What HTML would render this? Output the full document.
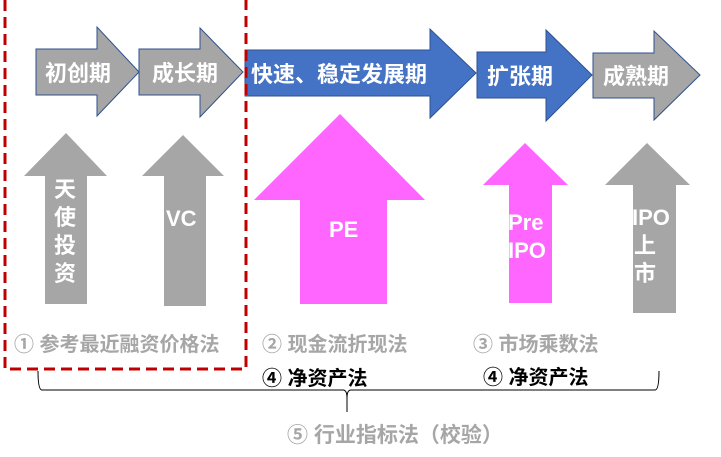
<!DOCTYPE html>
<html><head><meta charset="utf-8"><style>
html,body{margin:0;padding:0;background:#fff;}
svg{display:block;}
text{font-family:"Liberation Sans","Noto Sans CJK SC",sans-serif;font-weight:bold;}
</style></head><body>
<svg width="721" height="457" viewBox="0 0 721 457" xmlns="http://www.w3.org/2000/svg">
<g stroke="#2f528f" stroke-width="1">
<polygon points="36,49 97,49 97,27 139,72 97,116 97,95 36,95" fill="#a6a6a6"/>
<polygon points="139,49 200,49 200,28 243,72 200,117 200,95 139,95" fill="#a6a6a6"/>
<polygon points="245,50 430,50 430,29 476,73 430,118 430,96 245,96" fill="#4472c4"/>
<polygon points="477,52 546,52 546,30 592,75 546,121 546,98 477,98" fill="#4472c4"/>
<polygon points="593,53 654,53 654,31 700,75 654,120 654,98 593,98" fill="#a6a6a6"/>
</g>
<g fill="#fff" font-size="22">
<text x="45" y="81">初创期</text>
<text x="152" y="81">成长期</text>
<text x="251" y="82">快速、稳定发展期</text>
<text x="487" y="84">扩张期</text>
<text x="603" y="84">成熟期</text>
</g>
<polygon points="66,133 107,176 87,176 87,304 45,304 45,176 24,176" fill="#a6a6a6"/>
<polygon points="183,135 224,176 206,176 206,306 164,306 164,176 142,176" fill="#a6a6a6"/>
<polygon points="340,114 425,200 387,200 387,304 300,304 300,200 254,200" fill="#ff66ff"/>
<polygon points="525,143 568,185 552,185 552,303 509,303 509,185 483,185" fill="#ff66ff"/>
<polygon points="647,143 690,185 676,185 676,313 633,313 633,185 605,185" fill="#a6a6a6"/>
<g fill="#fff" font-size="22">
<text x="54" y="197">天</text>
<text x="54" y="225">使</text>
<text x="54" y="253">投</text>
<text x="54" y="281">资</text>
<text x="166" y="226">VC</text>
<text x="329" y="237">PE</text>
<text x="508" y="230">Pre</text>
<text x="508" y="258">IPO</text>
<text x="632" y="225">IPO</text>
<text x="634" y="253">上</text>
<text x="634" y="281">市</text>
</g>
<path d="M5,0 V369 H246 V0" fill="none" stroke="#c00000" stroke-width="3" stroke-dasharray="11,6"/>
<g fill="#a6a6a6" font-size="20">
<text x="14" y="351">① 参考最近融资价格法</text>
<text x="262" y="351">② 现金流折现法</text>
<text x="473" y="351">③ 市场乘数法</text>
</g>
<text x="287" y="442" fill="#a6a6a6" font-size="21">⑤ 行业指标法（校验）</text>
<g fill="#000" font-size="20">
<text x="262" y="385">④ 净资产法</text>
<text x="483" y="384">④ 净资产法</text>
</g>
<path d="M38,371 Q38,390 42,390 H343 Q347,390 347,398 V412 M347,398 Q347,390 351,390 H655 Q659,390 659,371" fill="none" stroke="#000" stroke-width="1"/>
</svg>
</body></html>
